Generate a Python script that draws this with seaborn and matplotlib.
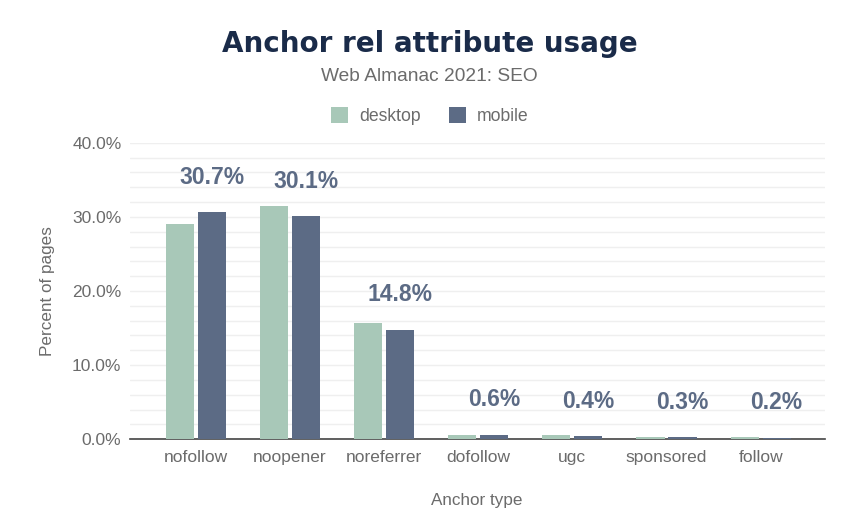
import pandas as pd
import matplotlib.pyplot as plt
import seaborn as sns
from matplotlib.patches import Patch
from matplotlib.ticker import MultipleLocator, FuncFormatter

# Datos
anchor_types = ['nofollow', 'noopener', 'noreferrer', 'dofollow', 'ugc', 'sponsored', 'follow']
desktop = [29.1, 31.5, 15.7, 0.6, 0.5, 0.3, 0.3]
mobile = [30.7, 30.1, 14.8, 0.6, 0.4, 0.3, 0.2]
mobile_labels = ['30.7%', '30.1%', '14.8%', '0.6%', '0.4%', '0.3%', '0.2%']

df = pd.DataFrame({
    'anchor': anchor_types * 2,
    'client': ['desktop'] * len(anchor_types) + ['mobile'] * len(anchor_types),
    'pct': desktop + mobile,
})

colores = {'desktop': '#a8c8b8', 'mobile': '#5c6b85'}
gris = '#6b6b6b'

sns.set_theme(style='white')
plt.rcParams['font.family'] = ['Liberation Sans', 'DejaVu Sans']

fig = plt.figure(figsize=(8.59, 5.31), dpi=100)
ax = fig.add_axes([0.151, 0.173, 0.809, 0.558])

sns.barplot(data=df, x='anchor', y='pct', hue='client', palette=colores,
            width=0.68, gap=0.12, saturation=1, legend=False, ax=ax,
            linewidth=0, zorder=3)

# Etiquetas del valor mobile encima de la barra mobile
mobile_bars = ax.containers[1]
for bar, lab in zip(mobile_bars, mobile_labels):
    cx = bar.get_x() + bar.get_width() / 2
    ax.annotate(lab, (cx, bar.get_height()), xytext=(0, 25), textcoords='offset points',
                ha='center', va='center', fontsize=16.5, fontweight='bold',
                color='#5c6b85')

ax.set_ylim(0, 40)
ax.set_xlim(-0.7, 6.68)
ax.yaxis.set_major_locator(MultipleLocator(10))
ax.yaxis.set_minor_locator(MultipleLocator(2))
ax.yaxis.set_major_formatter(FuncFormatter(lambda v, p: f'{v:.1f}%'))
ax.grid(axis='y', which='both', color='#efefef', linewidth=1, zorder=0)
ax.set_axisbelow(True)

for s in ['top', 'right', 'left']:
    ax.spines[s].set_visible(False)
ax.spines['bottom'].set_color('#444444')
ax.spines['bottom'].set_linewidth(1.2)
ax.tick_params(axis='both', which='both', length=0, labelsize=12.5, labelcolor=gris)
ax.tick_params(axis='x', pad=8)
ax.tick_params(axis='y', pad=6)

ax.set_xlabel('Anchor type', fontsize=12.3, color=gris, labelpad=20)
ax.set_ylabel('Percent of pages', fontsize=12.3, color=gris, labelpad=12)

fig.text(0.5, 0.917, 'Anchor rel attribute usage', ha='center', va='center',
         fontsize=20, fontweight='heavy', color='#1a2b49',
         family=['DejaVu Sans'])
fig.text(0.5, 0.855, 'Web Almanac 2021: SEO', ha='center', va='center',
         fontsize=13.8, color=gris)

handles = [Patch(facecolor=colores[c], edgecolor='none', label=c) for c in ['desktop', 'mobile']]
fig.legend(handles=handles, loc='center', bbox_to_anchor=(0.5, 0.782), ncol=2,
           frameon=False, fontsize=12.7, handlelength=1.0, handleheight=1.0,
           columnspacing=1.6, handletextpad=0.6, labelcolor=gris)

fig.savefig('out.png', dpi=100, facecolor='white')
